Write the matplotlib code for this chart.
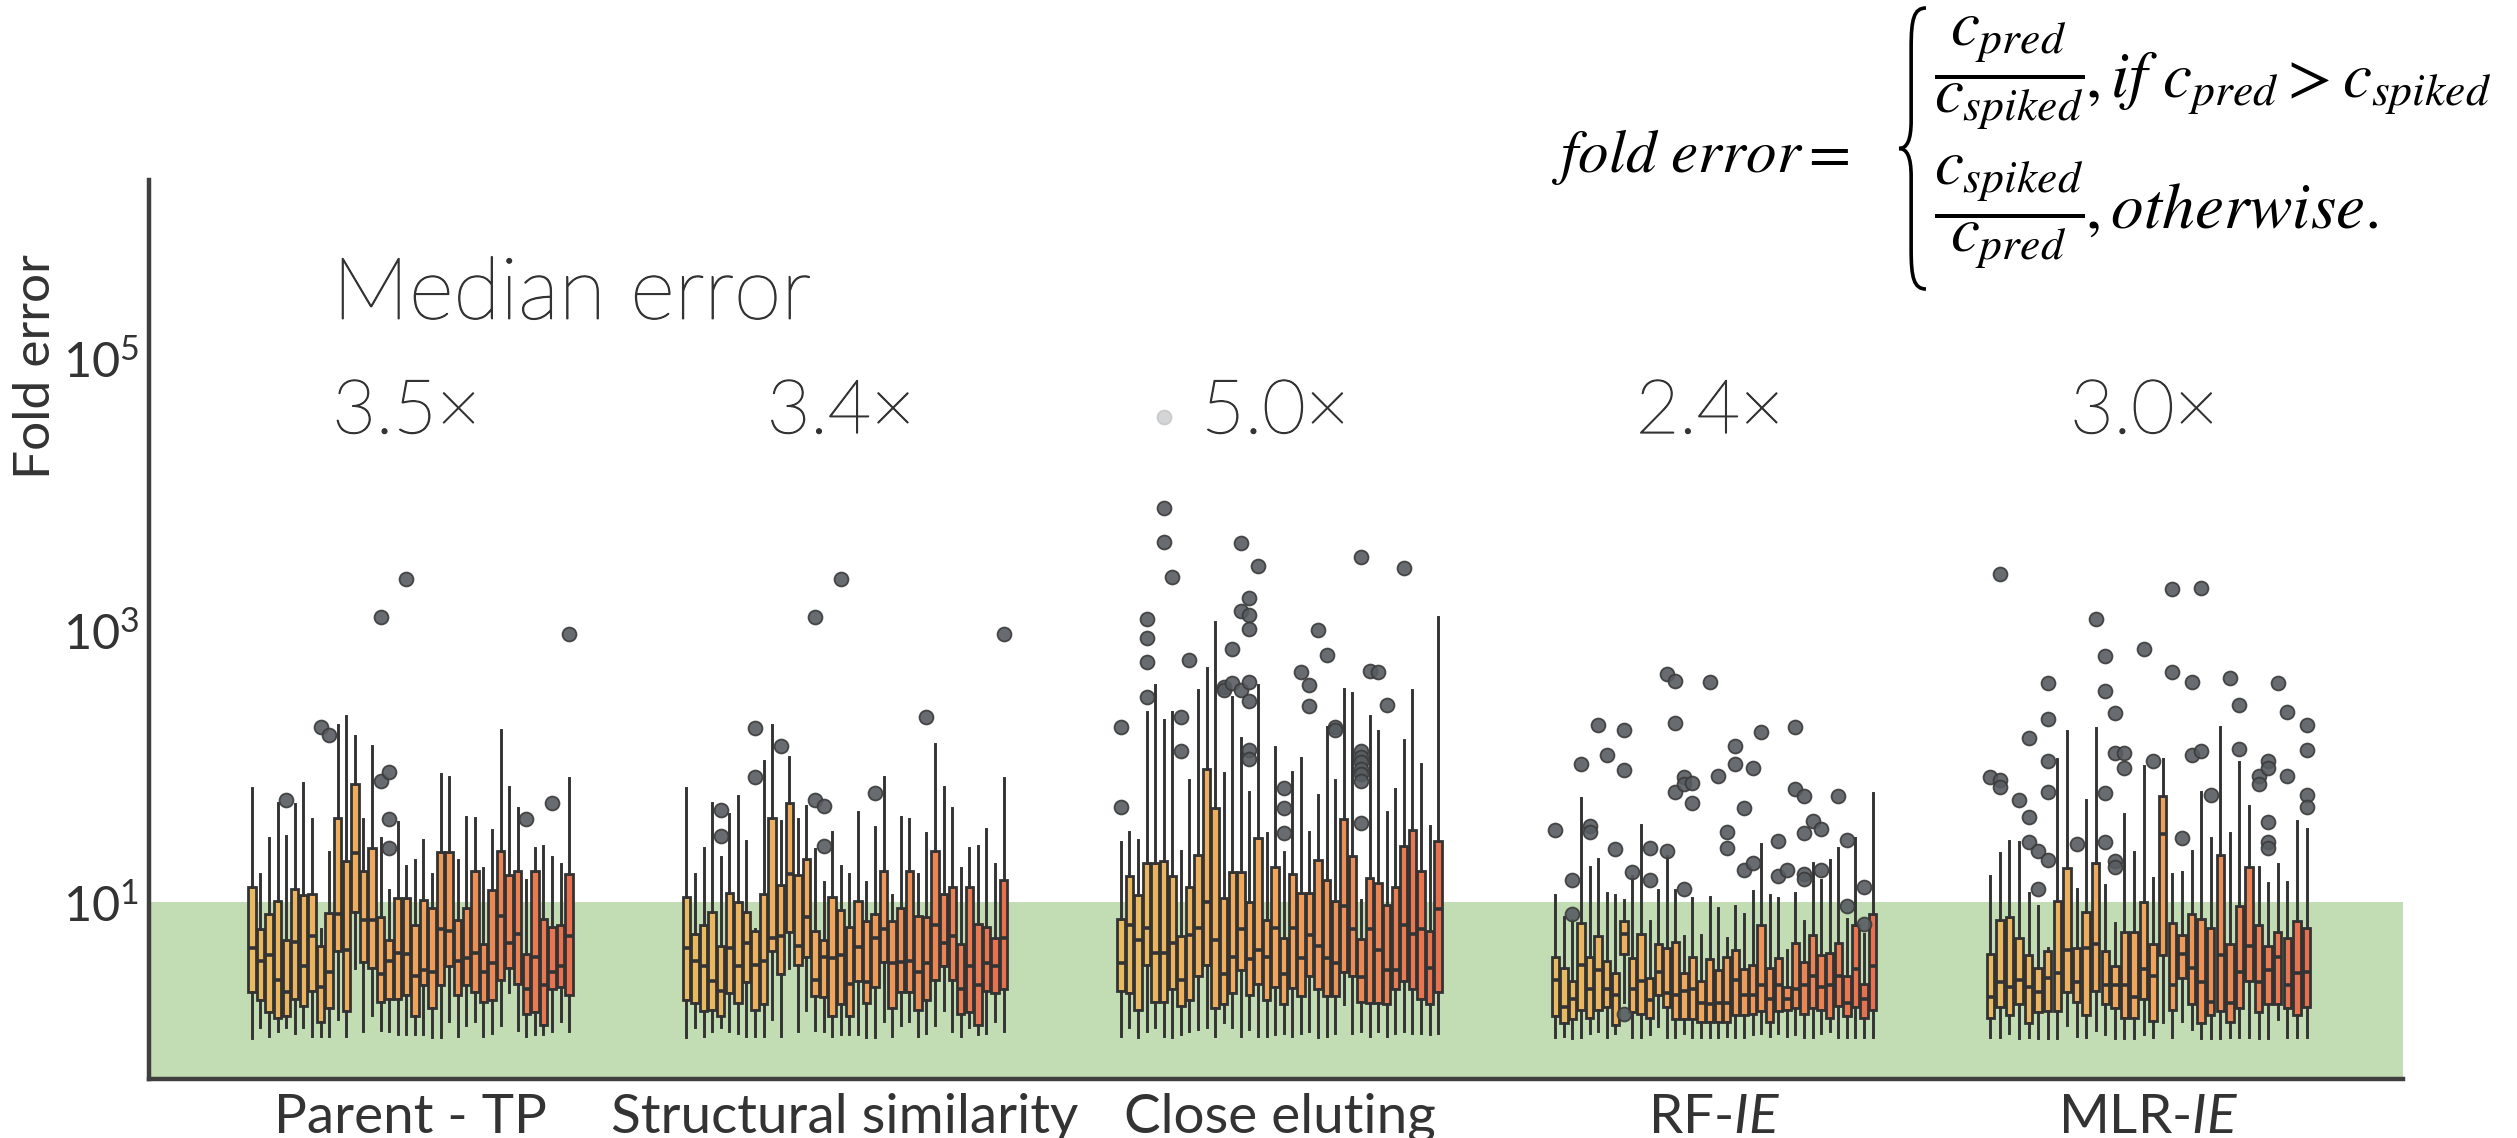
import numpy as np
import matplotlib.pyplot as plt
import matplotlib.patheffects as pe
from matplotlib.colors import LinearSegmentedColormap
from matplotlib.path import Path
from matplotlib.patches import PathPatch

plt.rcParams['font.family'] = ['Lato', 'DejaVu Sans']
plt.rcParams['mathtext.fontset'] = 'custom'
plt.rcParams['mathtext.rm'] = 'Lato'
plt.rcParams['mathtext.it'] = 'Lato:italic'

groups = ['Parent - TP', 'Structural similarity', 'Close eluting', r'RF-$\mathit{IE}$', r'MLR-$\mathit{IE}$']
median_errors = ['3.5×', '3.4×', '5.0×', '2.4×', '3.0×']

# box statistics in log10(fold error)
ptp_hi = [1.84, 1.21, 1.47, 1.73, 1.49, 1.72, 1.88, 1.61, 0.80, 1.37, 2.30, 2.37, 2.22, 1.61, 2.15, 1.47, 1.09, 1.59, 1.27, 1.31, 1.46, 1.21, 1.94, 1.92, 1.31, 1.63, 1.62, 1.25, 1.53, 2.27, 1.85, 1.69, 1.16, 1.40, 1.41, 1.33, 1.28, 1.91]
ptp_q3 = [1.11, 0.80, 0.91, 1.01, 0.72, 1.10, 1.05, 1.06, 0.68, 0.92, 1.62, 1.30, 1.87, 1.23, 1.40, 0.89, 0.72, 1.03, 1.03, 0.83, 1.02, 0.96, 1.37, 1.37, 0.87, 0.96, 1.23, 0.69, 1.09, 1.38, 1.20, 1.23, 0.62, 1.23, 0.88, 0.82, 0.83, 1.21]
ptp_med = [0.66, 0.57, 0.61, 0.43, 0.34, 0.71, 0.53, 0.75, 0.38, 0.49, 0.91, 0.65, 1.36, 0.87, 0.87, 0.47, 0.57, 0.63, 0.62, 0.46, 0.50, 0.49, 0.80, 0.79, 0.57, 0.59, 0.63, 0.49, 0.55, 0.90, 0.70, 0.77, 0.36, 0.60, 0.39, 0.49, 0.53, 0.75]
ptp_q1 = [0.34, 0.28, 0.19, 0.15, 0.16, 0.29, 0.24, 0.35, 0.12, 0.22, 0.64, 0.20, 0.93, 0.56, 0.52, 0.27, 0.29, 0.29, 0.32, 0.16, 0.39, 0.22, 0.39, 0.53, 0.32, 0.39, 0.34, 0.27, 0.28, 0.43, 0.52, 0.40, 0.18, 0.19, 0.10, 0.36, 0.38, 0.32]
ptp_lo = [0.00, 0.08, 0.02, 0.05, 0.08, 0.04, 0.08, 0.02, 0.02, 0.02, 0.14, 0.02, 0.52, 0.05, 0.17, 0.06, 0.05, 0.03, 0.03, 0.03, 0.03, 0.01, 0.01, 0.13, 0.02, 0.10, 0.13, 0.02, 0.04, 0.10, 0.34, 0.06, 0.02, 0.03, 0.03, 0.05, 0.13, 0.05]
ptp_fliers = [(4, 1.75), (8, 2.29), (9, 2.23), (15, 1.89), (15, 3.10), (16, 1.96), (16, 1.61), (16, 1.40), (18, 3.38), (32, 1.61), (35, 1.73), (37, 2.97)]

sts_hi = [1.84, 1.21, 1.40, 1.73, 1.33, 1.65, 1.78, 1.45, 0.80, 2.04, 2.30, 1.60, 2.07, 1.61, 1.71, 1.39, 1.15, 1.52, 1.27, 1.21, 1.66, 1.15, 1.55, 1.92, 1.05, 1.63, 1.61, 1.21, 1.51, 2.16, 1.85, 1.69, 1.25, 1.40, 1.41, 1.54, 1.28, 1.91]
sts_q3 = [1.04, 0.77, 0.83, 0.93, 0.68, 1.07, 1.00, 0.93, 0.79, 1.06, 1.62, 1.13, 1.73, 1.20, 1.32, 0.79, 0.72, 1.04, 0.94, 0.82, 1.01, 0.86, 0.91, 1.23, 0.86, 0.96, 1.23, 0.90, 0.89, 1.38, 1.06, 1.11, 0.69, 1.11, 0.84, 0.82, 0.74, 1.16]
sts_med = [0.66, 0.57, 0.53, 0.42, 0.35, 0.66, 0.53, 0.70, 0.54, 0.57, 0.74, 0.75, 1.21, 0.68, 0.89, 0.43, 0.60, 0.59, 0.61, 0.40, 0.67, 0.41, 0.74, 0.80, 0.55, 0.56, 0.57, 0.49, 0.55, 0.83, 0.70, 0.75, 0.36, 0.53, 0.39, 0.55, 0.53, 0.74]
sts_q1 = [0.28, 0.26, 0.20, 0.21, 0.16, 0.33, 0.26, 0.41, 0.21, 0.25, 0.64, 0.47, 0.78, 0.54, 0.60, 0.31, 0.30, 0.16, 0.25, 0.16, 0.42, 0.26, 0.38, 0.56, 0.22, 0.34, 0.34, 0.21, 0.28, 0.43, 0.53, 0.43, 0.18, 0.19, 0.10, 0.35, 0.33, 0.36]
sts_lo = [0.01, 0.08, 0.02, 0.05, 0.08, 0.05, 0.04, 0.02, 0.02, 0.02, 0.14, 0.02, 0.52, 0.05, 0.21, 0.06, 0.05, 0.02, 0.03, 0.03, 0.03, 0.01, 0.01, 0.13, 0.02, 0.10, 0.13, 0.02, 0.04, 0.10, 0.21, 0.05, 0.02, 0.08, 0.03, 0.04, 0.13, 0.05]
sts_fliers = [(4, 1.68), (4, 1.49), (8, 2.28), (8, 1.92), (11, 2.15), (15, 1.75), (15, 3.10), (16, 1.71), (16, 1.41), (18, 3.38), (22, 1.80), (28, 2.36), (37, 2.97)]

ce_hi = [1.44, 1.52, 1.46, 2.40, 2.60, 2.34, 2.40, 1.38, 1.90, 2.56, 2.72, 3.06, 1.95, 2.51, 2.21, 1.81, 2.60, 1.51, 2.14, 1.37, 1.96, 2.06, 1.52, 1.79, 2.29, 1.90, 2.57, 2.54, 1.02, 2.37, 2.26, 1.66, 1.83, 2.19, 2.56, 2.02, 1.56, 3.10]
ce_q3 = [0.88, 1.19, 1.05, 1.29, 1.29, 1.30, 1.19, 0.75, 1.11, 1.35, 1.98, 1.69, 1.03, 1.22, 1.22, 1.00, 1.47, 0.87, 1.26, 0.74, 1.21, 1.07, 1.07, 1.31, 1.16, 1.01, 1.61, 1.34, 0.73, 1.18, 1.14, 0.98, 1.11, 1.41, 1.53, 1.23, 0.79, 1.45]
ce_med = [0.55, 0.83, 0.72, 0.81, 0.63, 0.63, 0.70, 0.43, 0.76, 0.81, 1.00, 0.72, 0.47, 0.60, 0.80, 0.58, 0.65, 0.60, 0.81, 0.47, 0.81, 0.59, 0.76, 0.68, 0.59, 0.55, 0.97, 0.80, 0.45, 0.80, 0.65, 0.50, 0.50, 0.83, 0.77, 0.80, 0.52, 0.95]
ce_q1 = [0.35, 0.33, 0.21, 0.54, 0.27, 0.27, 0.36, 0.24, 0.28, 0.46, 0.54, 0.22, 0.25, 0.33, 0.50, 0.32, 0.40, 0.28, 0.38, 0.25, 0.37, 0.31, 0.46, 0.36, 0.31, 0.31, 0.49, 0.46, 0.27, 0.26, 0.26, 0.25, 0.36, 0.42, 0.36, 0.29, 0.25, 0.34]
ce_lo = [0.02, 0.08, 0.01, 0.05, 0.08, 0.02, 0.01, 0.03, 0.05, 0.07, 0.08, 0.02, 0.12, 0.08, 0.02, 0.07, 0.02, 0.02, 0.03, 0.04, 0.02, 0.04, 0.05, 0.01, 0.02, 0.04, 0.25, 0.04, 0.05, 0.02, 0.05, 0.02, 0.04, 0.05, 0.04, 0.04, 0.03, 0.04]
ce_fliers = [(0, 2.29), (0, 1.70), (3, 3.08), (3, 2.94), (3, 2.77), (3, 2.51), (5, 3.90), (5, 3.65), (5, 4.57),
             (6, 3.39), (7, 2.36), (7, 2.11), (8, 2.78), (12, 2.58), (12, 2.56), (13, 2.86), (13, 2.61),
             (14, 3.64), (14, 3.14), (14, 2.56), (15, 3.24), (15, 3.11), (15, 3.01), (15, 2.62), (15, 2.48),
             (15, 2.12), (15, 2.05), (16, 3.47), (19, 1.84), (19, 1.69), (19, 1.51), (21, 2.69), (22, 2.60),
             (22, 2.44), (23, 3.00), (24, 2.82), (25, 2.29), (25, 2.27), (28, 3.54), (28, 2.11), (28, 2.07),
             (28, 2.03), (28, 1.98), (28, 1.94), (28, 1.89), (28, 1.58), (29, 2.70), (30, 2.69), (31, 2.45), (33, 3.46)]

rf_hi = [1.05, 0.89, 0.87, 1.77, 1.26, 1.32, 1.07, 1.05, 1.02, 1.19, 1.57, 0.86, 1.09, 1.34, 1.09, 0.75, 1.03, 0.76, 1.04, 0.96, 0.74, 0.97, 0.91, 1.08, 1.43, 1.05, 1.03, 0.65, 1.07, 0.86, 1.29, 1.16, 1.31, 1.40, 0.88, 1.47, 0.77, 1.80]
rf_q3 = [0.60, 0.52, 0.42, 0.85, 0.60, 0.75, 0.57, 0.48, 0.86, 0.59, 0.77, 0.44, 0.69, 0.66, 0.71, 0.48, 0.60, 0.42, 0.58, 0.50, 0.60, 0.65, 0.51, 0.54, 0.83, 0.52, 0.59, 0.38, 0.70, 0.56, 0.76, 0.61, 0.63, 0.70, 0.46, 0.83, 0.40, 0.91]
rf_med = [0.43, 0.23, 0.29, 0.54, 0.36, 0.50, 0.36, 0.32, 0.77, 0.36, 0.42, 0.28, 0.49, 0.33, 0.32, 0.35, 0.36, 0.26, 0.25, 0.26, 0.26, 0.43, 0.32, 0.32, 0.39, 0.29, 0.39, 0.29, 0.36, 0.39, 0.46, 0.38, 0.39, 0.46, 0.26, 0.51, 0.29, 0.53]
rf_q1 = [0.16, 0.11, 0.14, 0.21, 0.15, 0.21, 0.23, 0.10, 0.62, 0.19, 0.18, 0.15, 0.32, 0.23, 0.14, 0.14, 0.14, 0.12, 0.12, 0.12, 0.12, 0.17, 0.17, 0.18, 0.20, 0.12, 0.20, 0.21, 0.22, 0.18, 0.22, 0.21, 0.15, 0.24, 0.16, 0.23, 0.15, 0.21]
rf_lo = [0.01, 0.02, 0.00, 0.01, 0.04, 0.05, 0.01, 0.04, 0.27, 0.01, 0.01, 0.03, 0.09, 0.01, 0.01, 0.04, 0.01, 0.01, 0.01, 0.01, 0.02, 0.01, 0.01, 0.03, 0.04, 0.02, 0.04, 0.02, 0.03, 0.01, 0.01, 0.04, 0.05, 0.01, 0.01, 0.01, 0.01, 0.01]
rf_fliers = [(0, 1.53), (2, 1.16), (2, 0.91), (3, 2.02), (4, 1.56), (4, 1.52), (5, 2.30), (6, 2.08), (7, 1.39),
             (8, 2.27), (8, 1.97), (8, 0.18), (9, 1.22), (11, 1.40), (11, 1.16), (13, 1.38), (13, 2.68),
             (14, 2.63), (14, 2.32), (14, 1.81), (15, 1.92), (15, 1.87), (15, 1.10), (16, 1.88), (16, 1.73),
             (18, 2.62), (19, 1.93), (20, 1.52), (20, 1.40), (21, 2.15), (21, 2.02), (22, 1.69), (22, 1.24),
             (23, 1.99), (23, 1.29), (24, 2.25), (26, 1.45), (26, 1.19), (27, 1.24), (28, 2.29), (28, 1.83),
             (29, 1.78), (29, 1.51), (29, 1.21), (29, 1.17), (30, 1.60), (31, 1.54), (31, 1.24), (33, 1.78),
             (34, 1.46), (34, 0.97), (36, 1.11), (36, 0.84)]

mlr_hi = [1.19, 1.36, 1.45, 1.44, 1.07, 0.97, 0.66, 2.05, 2.26, 1.10, 1.75, 2.28, 1.13, 0.85, 1.65, 1.37, 2.00, 1.18, 2.05, 1.21, 1.22, 1.38, 1.81, 1.47, 2.29, 1.51, 2.03, 1.71, 1.26, 1.14, 1.28, 1.15, 1.60, 1.54]
mlr_q3 = [0.62, 0.87, 0.89, 0.74, 0.61, 0.52, 0.64, 1.01, 1.25, 0.66, 0.93, 1.29, 0.64, 0.53, 0.78, 0.78, 1.00, 0.69, 1.78, 0.85, 0.76, 0.91, 0.88, 0.81, 1.35, 0.69, 0.97, 1.26, 0.83, 0.68, 0.78, 0.74, 0.86, 0.81]
mlr_med = [0.30, 0.41, 0.38, 0.43, 0.38, 0.34, 0.44, 0.48, 0.65, 0.41, 0.66, 0.69, 0.39, 0.39, 0.39, 0.30, 0.51, 0.46, 1.50, 0.39, 0.62, 0.52, 0.41, 0.27, 0.61, 0.26, 0.49, 0.68, 0.41, 0.50, 0.60, 0.39, 0.48, 0.49]
mlr_q1 = [0.15, 0.23, 0.17, 0.25, 0.11, 0.19, 0.20, 0.20, 0.34, 0.27, 0.17, 0.35, 0.25, 0.22, 0.15, 0.15, 0.29, 0.13, 0.61, 0.21, 0.44, 0.25, 0.11, 0.17, 0.20, 0.12, 0.22, 0.42, 0.19, 0.25, 0.25, 0.22, 0.17, 0.23]
mlr_lo = [0.01, 0.01, 0.04, 0.00, 0.01, 0.00, 0.00, 0.00, 0.10, 0.02, 0.01, 0.06, 0.03, 0.00, 0.00, 0.00, 0.03, 0.01, 0.12, 0.01, 0.13, 0.07, 0.00, 0.00, 0.00, 0.01, 0.01, 0.01, 0.00, 0.00, 0.14, 0.01, 0.01, 0.01]
mlr_fliers = [(1, 3.41), (19, 3.30), (22, 3.31), (11, 3.08), (16, 2.86), (12, 2.81), (6, 2.61), (19, 2.69),
              (21, 2.62), (25, 2.65), (30, 2.61), (12, 2.55), (26, 2.45), (31, 2.40), (13, 2.39), (33, 2.30),
              (6, 2.35), (4, 2.21), (33, 2.12), (26, 2.13), (13, 2.10), (14, 2.10), (14, 1.99), (21, 2.08),
              (22, 2.11), (17, 2.04), (6, 2.04), (29, 2.04), (29, 1.99), (28, 1.93), (28, 1.87), (31, 1.93),
              (0, 1.92), (1, 1.90), (1, 1.85), (3, 1.75), (4, 1.63), (6, 1.81), (12, 1.80), (23, 1.79),
              (33, 1.79), (33, 1.70), (4, 1.44), (5, 1.38), (6, 1.31), (9, 1.43), (12, 1.44), (13, 1.30),
              (13, 1.26), (20, 1.47), (29, 1.59), (29, 1.44), (29, 1.40), (5, 1.10)]

box_data = [
    (ptp_lo, ptp_q1, ptp_med, ptp_q3, ptp_hi, ptp_fliers),
    (sts_lo, sts_q1, sts_med, sts_q3, sts_hi, sts_fliers),
    (ce_lo, ce_q1, ce_med, ce_q3, ce_hi, ce_fliers),
    (rf_lo, rf_q1, rf_med, rf_q3, rf_hi, rf_fliers),
    (mlr_lo, mlr_q1, mlr_med, mlr_q3, mlr_hi, mlr_fliers),
]

span = 0.75
pal = LinearSegmentedColormap.from_list('pal', ['#E9BA60', '#F0A45B', '#E7704F'])
dark = '#333333'
txt = '#333333'

fig = plt.figure(figsize=(25.17, 11.38), dpi=100)
ax = fig.add_axes([0.0592, 0.0518, 0.8955, 0.790])
ax.set_yscale('log')
ax.set_xlim(-0.602, 4.586)
ax.set_ylim(10 ** -0.30, 10 ** 6.31)
ax.axhspan(1e-3, 10, color='#c2dcb3', lw=0, zorder=0)

for g, (lo, q1, med, q3, hi, fl) in enumerate(box_data):
    n = len(med)
    step = span / n
    stats = []
    for i in range(n):
        stats.append(dict(whislo=10 ** lo[i], q1=10 ** q1[i], med=10 ** med[i], q3=10 ** q3[i],
                          whishi=10 ** hi[i], fliers=[10 ** v for b, v in fl if b == i]))
    pos = g + step * (np.arange(n) - (n - 1) / 2)
    art = ax.bxp(stats, positions=pos, widths=span / 38 * 0.86, patch_artist=True, showcaps=False,
                 boxprops=dict(edgecolor=dark, linewidth=2.0),
                 whiskerprops=dict(color=dark, linewidth=2.1),
                 medianprops=dict(color=dark, linewidth=2.6),
                 flierprops=dict(marker='o', markersize=10, markerfacecolor='#575c61',
                                 markeredgecolor='#3a3a3a', markeredgewidth=1.3, alpha=0.9))
    for patch, c in zip(art['boxes'], pal(np.linspace(0, 1, n))):
        patch.set_facecolor(c)
    for f in art['fliers']:
        f.set_zorder(3)

for side in ['top', 'right']:
    ax.spines[side].set_visible(False)
for side in ['left', 'bottom']:
    ax.spines[side].set_linewidth(3.2)
    ax.spines[side].set_color('#3f3f3f')

ax.set_yticks([10, 1e3, 1e5])
ax.set_yticklabels([r'$\mathregular{10^{1}}$', r'$\mathregular{10^{3}}$', r'$\mathregular{10^{5}}$'])
ax.yaxis.set_minor_locator(plt.NullLocator())
ax.set_xticks(range(len(groups)))
ax.set_xticklabels(groups)
ax.tick_params(length=0, labelcolor=txt)
ax.tick_params(axis='x', pad=10, labelsize=39.5)
ax.tick_params(axis='y', pad=7, labelsize=35)
ax.set_ylabel('Fold error', fontsize=37, color=txt)
ax.yaxis.set_label_coords(-0.040, 0.793)

thin = [pe.withStroke(linewidth=0.9, foreground='#333333')]
ax.text(-0.18, 10 ** 5.29, 'Median error', fontsize=62, fontweight='light', color='#333333', zorder=6,
        path_effects=thin)
for g, m in enumerate(median_errors):
    ax.text(g - 0.18, 10 ** 4.45, m, fontsize=54, fontweight='light', color='#333333', zorder=5,
            path_effects=thin, bbox=dict(boxstyle='square,pad=0.6', fc='white', ec='none', alpha=0.72))

# fold error definition
W, H = 2517.0, 1138.0
fig.text(1552 / W, 1 - 172 / H, r'$fold\ error =$', fontsize=44, math_fontfamily='stix', va='baseline')
rows = [(r'$\dfrac{c_{pred}}{c_{spiked}}$', r'$,if\ c_{pred} > c_{spiked}$', 88, 97),
        (r'$\dfrac{c_{spiked}}{c_{pred}}$', r'$,otherwise.$', 227, 228)]
for frac, tail, yb_frac, yb_tail in rows:
    t = fig.text(1934 / W, 1 - yb_frac / H, frac, fontsize=47, math_fontfamily='stix', va='baseline')
    ax.annotate(tail, xy=(1.0, 1 - yb_tail / H), xycoords=(t, 'figure fraction'), fontsize=47,
                math_fontfamily='stix', va='baseline', ha='left', annotation_clip=False)

bx0, bx1, by0, by1 = 1899 / W, 1926 / W, 1 - 289 / H, 1 - 8 / H
def bp(u, v):
    return (bx0 + u * (bx1 - bx0), by0 + v * (by1 - by0))
verts = [bp(1, 1), bp(0.55, 1), bp(0.45, 0.96), bp(0.45, 0.86), bp(0.45, 0.6),
         bp(0.45, 0.53), bp(0.3, 0.5), bp(0, 0.5), bp(0.3, 0.5), bp(0.45, 0.47), bp(0.45, 0.4),
         bp(0.45, 0.14), bp(0.45, 0.04), bp(0.55, 0), bp(1, 0)]
codes = [Path.MOVETO, Path.CURVE4, Path.CURVE4, Path.CURVE4, Path.LINETO,
         Path.CURVE4, Path.CURVE4, Path.CURVE4, Path.CURVE4, Path.CURVE4, Path.CURVE4,
         Path.LINETO, Path.CURVE4, Path.CURVE4, Path.CURVE4]
fig.add_artist(PathPatch(Path(verts, codes), transform=fig.transFigure, fill=False, lw=2.6, color='black'))

fig.savefig('out.png', dpi=100)
